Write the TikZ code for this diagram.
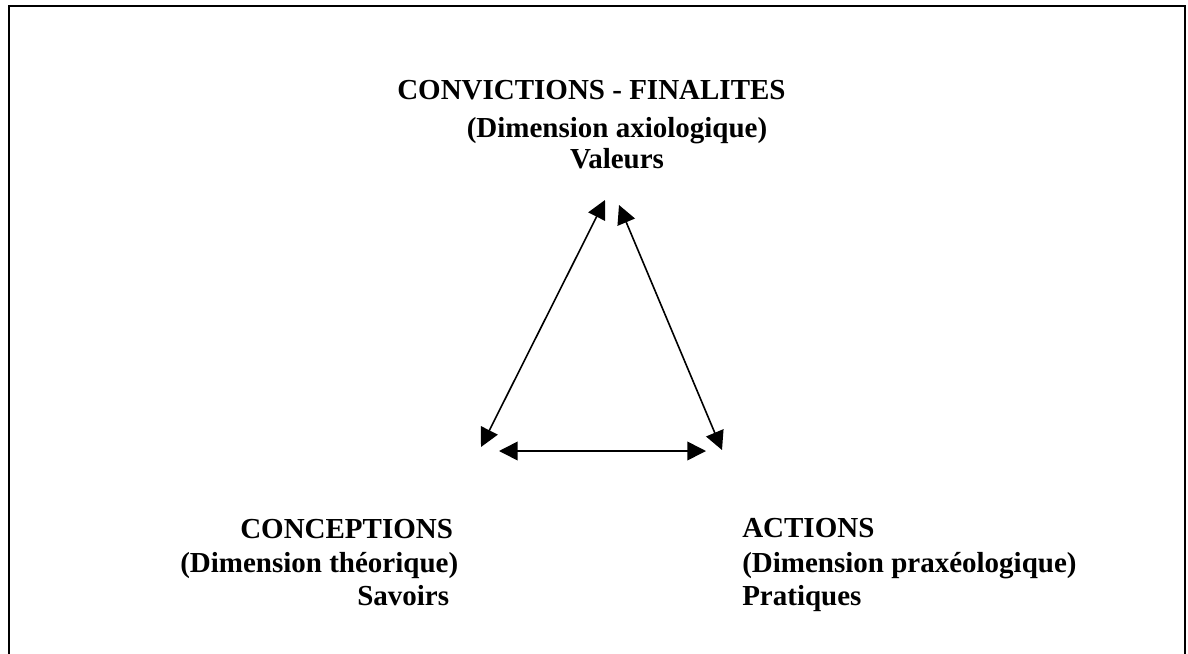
\documentclass[tikz,border=0pt]{standalone}
\usepackage{fontspec}
\setmainfont{Liberation Serif}
\usetikzlibrary{arrows.meta}

\tikzset{
  titre/.style={font=\fontsize{21.75}{25}\selectfont\bfseries, inner sep=0pt},
  fleche/.style={{Triangle[length=14pt,width=14pt]}-{Triangle[length=14pt,width=14pt]}, line width=1.2pt}
}

\begin{document}
\begin{tikzpicture}[x=0.75pt,y=-0.75pt]
\useasboundingbox (0,0) rectangle (1188,653);
\clip (0,0) rectangle (1188,653);
% cadre (ouvert en bas)
\draw[line width=1.5pt] (9,670)--(9,6)--(1185,6)--(1185,670);
% pole du haut
\node[titre, anchor=base west] (conv) at (397,99) {CONVICTIONS - FINALITES};
\node[titre, anchor=base] (axio) at (617,137) {(Dimension axiologique)};
\node[titre, anchor=base] (val) at (617,168) {Valeurs};
% pole gauche
\node[titre, anchor=base west] (conc) at (240,538) {CONCEPTIONS};
\node[titre, anchor=base west] (theo) at (180,572) {(Dimension théorique)};
\node[titre, anchor=base west] (sav) at (357,605) {Savoirs};
% pole droit
\node[titre, anchor=base west] (act) at (742,537) {ACTIONS};
\node[titre, anchor=base west] (prax) at (742,572) {(Dimension praxéologique)};
\node[titre, anchor=base west] (prat) at (742,605) {Pratiques};
% triangle
\coordinate (hautG) at (605,200);
\coordinate (hautD) at (619,205);
\coordinate (basG) at (481,447);
\coordinate (basD) at (722,450);
\coordinate (milG) at (499,451);
\coordinate (milD) at (706,451);
\draw[fleche] (hautG) -- (basG);
\draw[fleche] (hautD) -- (basD);
\draw[fleche] (milG) -- (milD);
\end{tikzpicture}
\end{document}
